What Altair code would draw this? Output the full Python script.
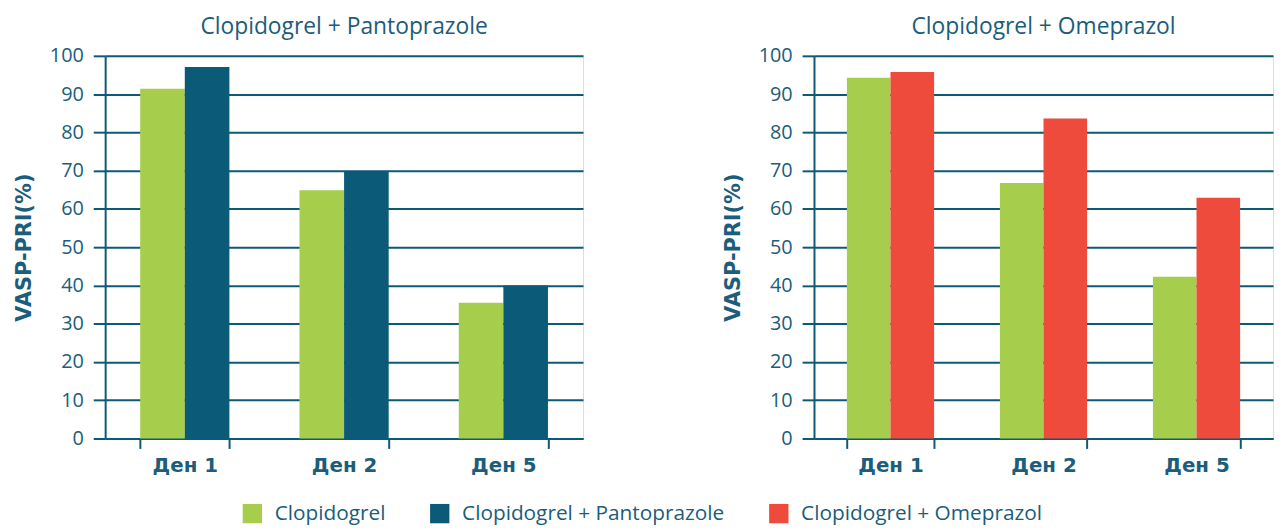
import altair as alt
import pandas as pd

days = ["Ден 1", "Ден 2", "Ден 5"]
series = ["Clopidogrel", "Clopidogrel + Pantoprazole", "Clopidogrel + Omeprazol"]
clop_left = [91.4, 64.9, 35.5]
panto = [97.1, 69.8, 40.0]
clop_right = [94.3, 66.8, 42.3]
omep = [95.8, 83.6, 62.9]
y_ticks = list(range(0, 101, 10))

bar_colors = ["#a6cd4b", "#0b5a78", "#ee4b3c"]
TXT = "#1b5d7a"
AX = "#0d5a77"

def panel_df(a, b, name_b):
    rows = []
    for d, v in zip(days, a):
        rows.append({"day": d, "series": series[0], "value": v})
    for d, v in zip(days, b):
        rows.append({"day": d, "series": name_b, "value": v})
    return pd.DataFrame(rows)

left_df = panel_df(clop_left, panto, series[1])
right_df = panel_df(clop_right, omep, series[2])

legend = alt.Legend(
    title=None, orient="none", direction="horizontal", legendX=138, legendY=451,
    symbolType="square", symbolSize=380, symbolOpacity=1, symbolStrokeWidth=0,
    labelFont="Open Sans", labelFontSize=21, labelColor=TXT, labelOffset=12,
    columnPadding=44, labelLimit=400,
)

def panel(df, title, width, pin, pair):
    return alt.Chart(df).mark_bar().encode(
        x=alt.X("day:N", sort=days, title=None,
                scale=alt.Scale(paddingInner=pin, paddingOuter=pin / 2),
                axis=alt.Axis(labelAngle=0, labelFont="DejaVu Sans", labelFontWeight="bold",
                              labelFontSize=20, labelColor=TXT, labelPadding=7,
                              domainColor=AX, domainWidth=2, tickColor=AX, tickWidth=2,
                              tickSize=10, tickBand="extent", grid=False)),
        xOffset=alt.XOffset("series:N", sort=pair,
                            scale=alt.Scale(domain=pair, paddingInner=0, paddingOuter=0)),
        y=alt.Y("value:Q", title="VASP-PRI(%)",
                scale=alt.Scale(domain=[0, 100], nice=False),
                axis=alt.Axis(values=y_ticks, labelFont="Open Sans", labelFontSize=20,
                              labelColor=TXT, labelPadding=10, tickSize=12, tickColor=AX,
                              tickWidth=2, domainColor=AX, domainWidth=2, grid=True,
                              gridColor=AX, gridWidth=2, gridOpacity=1,
                              titleFont="DejaVu Sans", titleFontWeight="bold",
                              titleFontSize=21, titleColor=TXT, titlePadding=15)),
        color=alt.Color("series:N", scale=alt.Scale(domain=series, range=bar_colors),
                        legend=legend),
    ).properties(
        width=width, height=386,
        title=alt.TitleParams(title, font="Open Sans", fontSize=23, fontWeight="normal",
                              color=TXT, offset=7),
    )

left = panel(left_df, "Clopidogrel + Pantoprazole", 482, 0.44, [series[0], series[1]])
right = panel(right_df, "Clopidogrel + Omeprazol", 463, 0.43, [series[0], series[2]])

chart = alt.hconcat(left, right, spacing=139).resolve_scale(
    xOffset="independent", x="independent"
).properties(
    padding={"left": 5, "top": 5, "right": 0, "bottom": 0},
).configure_view(stroke=None).configure(background="white")

chart.save("out.html", embed_options={"renderer": "svg", "actions": False})
